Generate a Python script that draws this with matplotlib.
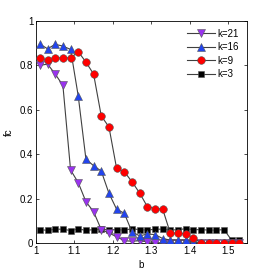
import matplotlib
matplotlib.use("Agg")
import matplotlib.pyplot as plt
import numpy as np

B_VALUES = np.round(np.arange(1.01, 1.54, 0.02), 2)

K3 = [0.060, 0.057, 0.062, 0.062, 0.056, 0.063, 0.057, 0.060, 0.062, 0.060,
      0.060, 0.058, 0.064, 0.060, 0.058, 0.062, 0.062, 0.058, 0.060, 0.064,
      0.060, 0.060, 0.058, 0.058, 0.060, 0.012, 0.012]
K21 = [0.800, 0.806, 0.761, 0.710, 0.329, 0.272, 0.186, 0.141, 0.060, 0.045,
       0.028, 0.010, 0.008, 0.010, 0.005, 0.002, 0.0, 0.0, 0.0, 0.0,
       0.0, 0.0, 0.0, 0.0, 0.0, 0.0, 0.0]
K16 = [0.896, 0.875, 0.895, 0.887, 0.872, 0.662, 0.378, 0.348, 0.324, 0.224,
       0.152, 0.134, 0.050, 0.032, 0.040, 0.038, 0.020, 0.013, 0.013, 0.013,
       0.005, 0.0, 0.0, 0.0, 0.0, 0.0, 0.0]
K9 = [0.835, 0.824, 0.833, 0.835, 0.833, 0.862, 0.815, 0.761, 0.572, 0.523,
      0.336, 0.321, 0.276, 0.225, 0.164, 0.155, 0.153, 0.044, 0.044, 0.042,
      0.022, 0.0, 0.0, 0.0, 0.0, 0.0, 0.0]

X_TICKS = [1, 1.1, 1.2, 1.3, 1.4, 1.5]
Y_TICKS = [0, 0.2, 0.4, 0.6, 0.8, 1]
Y_TICK_LABELS = ["0", "0.2", "0.4", "0.6", "0.8", "1"]

plt.rcParams["font.family"] = "Liberation Sans"
plt.rcParams["font.size"] = 7

fig = plt.figure(figsize=(2.73, 2.73), dpi=100)
ax = fig.add_axes([0.132, 0.11, 0.773, 0.813])

line_kw = dict(color="#404040", linewidth=0.8, markeredgecolor="#555555",
               markeredgewidth=0.4)
h3, = ax.plot(B_VALUES, K3, marker="s", markersize=4, markerfacecolor="black",
              label="k=3", zorder=2, **line_kw)
h21, = ax.plot(B_VALUES, K21, marker="v", markersize=5.5, markerfacecolor="#9933ee",
               label="k=21", zorder=3, **line_kw)
h16, = ax.plot(B_VALUES, K16, marker="^", markersize=5.5, markerfacecolor="#2244ee",
               label="k=16", zorder=4, **line_kw)
h9, = ax.plot(B_VALUES, K9, marker="o", markersize=5.5, markerfacecolor="#ff0000",
              label="k=9", zorder=5, **line_kw)

ax.set_xlim(1, 1.55)
ax.set_ylim(0, 1)
ax.set_xticks(X_TICKS)
ax.set_xticklabels([f"{t:g}" for t in X_TICKS])
ax.set_yticks(Y_TICKS)
ax.set_yticklabels(Y_TICK_LABELS)
ax.tick_params(direction="in", top=True, right=True, length=2.5, width=0.5, pad=2)
for sp in ax.spines.values():
    sp.set_linewidth(0.6)

ax.set_xlabel("b", labelpad=3)
ax.set_ylabel("fc", labelpad=4)

ax.legend(handles=[h21, h16, h9, h3], loc="upper right", frameon=False,
          handlelength=2.9, labelspacing=0.35, handletextpad=0.3,
          borderaxespad=0.4, fontsize=7)

fig.savefig("out.png", dpi=100)
